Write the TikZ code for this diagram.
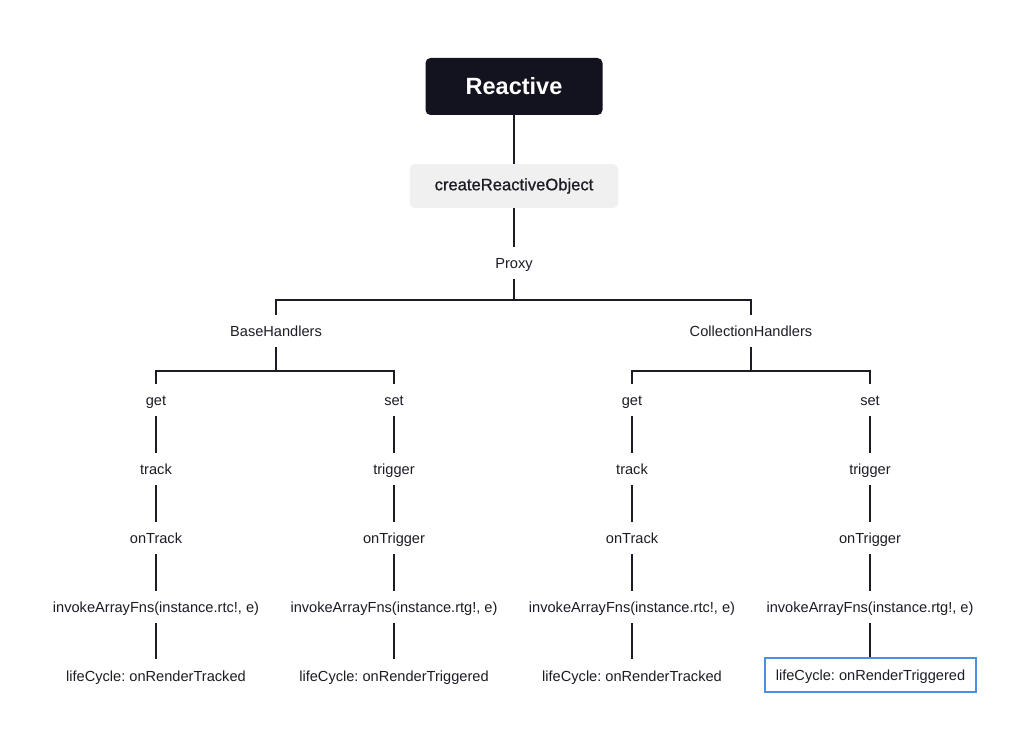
\documentclass[tikz,border=0pt]{standalone}
\usepackage{fontspec}
\setmainfont{Liberation Sans}
\frenchspacing
\usetikzlibrary{calc}
\definecolor{ink}{HTML}{1C1C26}
\definecolor{darkbox}{HTML}{13121F}
\definecolor{graybox}{HTML}{F0F0F0}
\definecolor{hiblue}{HTML}{4A90E2}
\begin{document}
\begin{tikzpicture}[x=1pt,y=-1pt,
  conn/.style={draw=ink,line width=1.8pt},
  lbl/.style={inner sep=0pt,minimum height=32pt,text height=12.5pt,text depth=1pt,text=ink,font=\fontsize{14.6}{17}\selectfont\frenchspacing},
  leaf/.style={lbl,minimum height=34pt},
  hilite/.style={leaf,draw=hiblue,line width=1.6pt,minimum width=211pt},
  rootbox/.style={fill=darkbox,rounded corners=5pt,minimum width=177pt,minimum height=57pt,text=white,font=\fontsize{23.5}{26}\selectfont\bfseries},
  graynode/.style={fill=graybox,rounded corners=5pt,minimum width=208pt,minimum height=44pt,text=ink,font=\fontsize{16.6}{19}\selectfont\addfontfeature{FakeBold=0.9}}
]
\useasboundingbox[fill=white] (0,0) rectangle (1024,733);

\node[rootbox] (reactive) at (514,86.5) {Reactive};
\node[graynode] (cro) at (514,186) {createReactiveObject};
\node[lbl] (proxy) at (514,263) {Proxy};
\node[lbl] (base) at (276,331) {BaseHandlers};
\node[lbl] (coll) at (751,331) {CollectionHandlers};

\node[lbl] (get1) at (156,400) {get};
\node[lbl] (set1) at (394,400) {set};
\node[lbl] (get2) at (632,400) {get};
\node[lbl] (set2) at (870,400) {set};

\node[lbl] (track1) at (156,469) {track};
\node[lbl] (trig1) at (394,469) {trigger};
\node[lbl] (track2) at (632,469) {track};
\node[lbl] (trig2) at (870,469) {trigger};

\node[lbl] (ontrack1) at (156,538) {onTrack};
\node[lbl] (ontrig1) at (394,538) {onTrigger};
\node[lbl] (ontrack2) at (632,538) {onTrack};
\node[lbl] (ontrig2) at (870,538) {onTrigger};

\node[lbl] (inv1) at (156,607) {invokeArrayFns(instance.rtc!, e)};
\node[lbl] (inv2) at (394,607) {invokeArrayFns(instance.rtg!, e)};
\node[lbl] (inv3) at (632,607) {invokeArrayFns(instance.rtc!, e)};
\node[lbl] (inv4) at (870,607) {invokeArrayFns(instance.rtg!, e)};

\node[leaf] (life1) at (156,676) {lifeCycle: onRenderTracked};
\node[leaf] (life2) at (394,676) {lifeCycle: onRenderTriggered};
\node[leaf] (life3) at (632,676) {lifeCycle: onRenderTracked};
\node[hilite] (life4) at (870.5,675) {lifeCycle: onRenderTriggered};

\coordinate (pj) at (514,300);
\coordinate (bj) at (276,371);
\coordinate (cj) at (751,371);

\draw[conn] (reactive.south) -- (cro.north);
\draw[conn] (cro.south) -- (proxy.north);
\draw[conn] (proxy.south) -- (pj);
\draw[conn] (pj) -| (base.north);
\draw[conn] (pj) -| (coll.north);
\draw[conn] (base.south) -- (bj);
\draw[conn] (bj) -| (get1.north);
\draw[conn] (bj) -| (set1.north);
\draw[conn] (coll.south) -- (cj);
\draw[conn] (cj) -| (get2.north);
\draw[conn] (cj) -| (set2.north);

\draw[conn] (get1) -- (track1);
\draw[conn] (track1) -- (ontrack1);
\draw[conn] (ontrack1) -- (inv1);
\draw[conn] (inv1) -- (life1);

\draw[conn] (set1) -- (trig1);
\draw[conn] (trig1) -- (ontrig1);
\draw[conn] (ontrig1) -- (inv2);
\draw[conn] (inv2) -- (life2);

\draw[conn] (get2) -- (track2);
\draw[conn] (track2) -- (ontrack2);
\draw[conn] (ontrack2) -- (inv3);
\draw[conn] (inv3) -- (life3);

\draw[conn] (set2) -- (trig2);
\draw[conn] (trig2) -- (ontrig2);
\draw[conn] (ontrig2) -- (inv4);
\draw[conn] (inv4) -- (life4.north -| inv4.south);
\end{tikzpicture}
\end{document}
